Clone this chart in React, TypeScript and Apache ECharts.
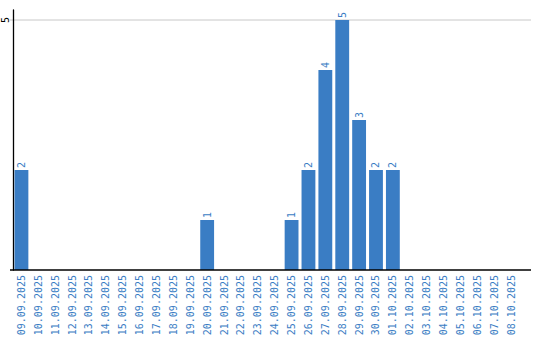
import React, { useEffect, useRef } from "react";
import * as echarts from "echarts";

const categories = [
  "09.09.2025", "10.09.2025", "11.09.2025", "12.09.2025", "13.09.2025", "14.09.2025",
  "15.09.2025", "16.09.2025", "17.09.2025", "18.09.2025", "19.09.2025", "20.09.2025",
  "21.09.2025", "22.09.2025", "23.09.2025", "24.09.2025", "25.09.2025", "26.09.2025",
  "27.09.2025", "28.09.2025", "29.09.2025", "30.09.2025", "01.10.2025", "02.10.2025",
  "03.10.2025", "04.10.2025", "05.10.2025", "06.10.2025", "07.10.2025", "08.10.2025",
];
const counts = [2, 0, 0, 0, 0, 0, 0, 0, 0, 0, 0, 1, 0, 0, 0, 0, 1, 2, 4, 5, 3, 2, 2, 0, 0, 0, 0, 0, 0, 0];
const yTickLabels = [5];

const BLUE = "#3a7dc4";
const FONT = "DejaVu Sans Mono";
const LINE_X1 = 10;
const LINE_X2 = 531;

export default function App() {
  const ref = useRef<HTMLDivElement>(null);
  useEffect(() => {
    const chart = echarts.init(ref.current!, null, { renderer: "svg" });
    chart.setOption({
      animation: false,
      grid: { left: 9.5, right: 20.5, top: 10, bottom: 70, containLabel: false },
      xAxis: {
        type: "category",
        data: categories,
        boundaryGap: true,
        axisLine: { show: false },
        axisTick: { show: false },
        axisLabel: {
          interval: 0,
          rotate: 90,
          color: BLUE,
          fontFamily: FONT,
          fontSize: 10,
          margin: 5,
        },
        splitLine: { show: false },
      },
      yAxis: {
        type: "value",
        min: 0,
        max: 5.2,
        interval: 5,
        axisLine: { show: true, lineStyle: { color: "#000", width: 1.3 } },
        axisTick: { show: false },
        splitLine: { show: false },
        axisLabel: {
          rotate: 90,
          color: "#000",
          fontFamily: FONT,
          fontSize: 10,
          margin: 3,
          formatter: (v: number) => (yTickLabels.includes(v) ? String(v) : ""),
        },
      },
      series: [
        {
          type: "bar",
          data: counts,
          barCategoryGap: "18%",
          itemStyle: { color: BLUE },
          label: {
            show: true,
            position: "top",
            rotate: 90,
            align: "left",
            verticalAlign: "middle",
            distance: 2,
            color: BLUE,
            fontFamily: FONT,
            fontSize: 10,
            formatter: (p: any) => (p.value ? String(p.value) : ""),
          },
        },
      ],
    });
    const y0 = chart.convertToPixel({ yAxisIndex: 0 }, 0) as number;
    const gridLines = yTickLabels.map((v) => {
      const y = chart.convertToPixel({ yAxisIndex: 0 }, v) as number;
      return {
        type: "line",
        shape: { x1: LINE_X1, y1: y, x2: LINE_X2, y2: y },
        style: { stroke: "#c8c8c8", lineWidth: 1 },
        z: 0,
      };
    });
    chart.setOption({
      graphic: [
        ...gridLines,
        {
          type: "line",
          shape: { x1: LINE_X1, y1: y0, x2: LINE_X2, y2: y0 },
          style: { stroke: "#000", lineWidth: 1.3 },
          z: 100,
        },
      ],
    });
    return () => chart.dispose();
  }, []);
  return <div ref={ref} style={{ width: 540, height: 340, position: "absolute", left: 0, top: 0 }} />;
}
